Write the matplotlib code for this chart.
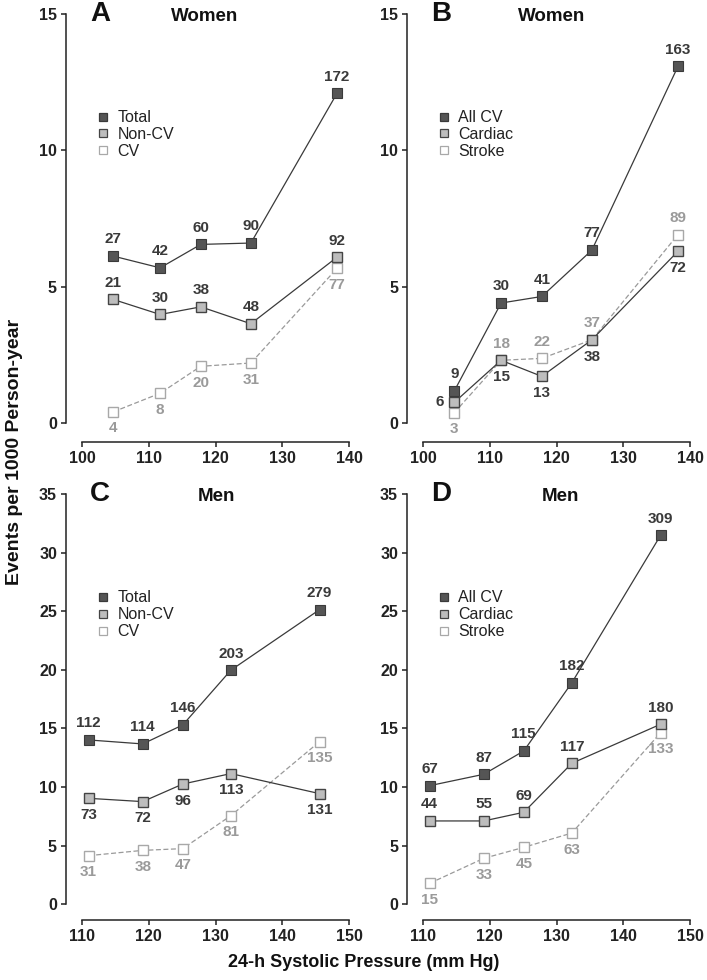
import matplotlib
matplotlib.use("Agg")
import matplotlib.pyplot as plt
from matplotlib.lines import Line2D

plt.rcParams['font.family'] = ['Liberation Sans', 'DejaVu Sans']

# ---- datos ----
# Mujeres (paneles A y B)
x_women = [104.7, 111.7, 117.8, 125.3, 138.2]
a_total = [6.12, 5.69, 6.55, 6.60, 12.09]
a_noncv = [4.53, 3.98, 4.26, 3.64, 6.08]
a_cv = [0.41, 1.09, 2.08, 2.20, 5.67]
a_total_n = ["27", "42", "60", "90", "172"]
a_noncv_n = ["21", "30", "38", "48", "92"]
a_cv_n = ["4", "8", "20", "31", "77"]

b_allcv = [1.18, 4.40, 4.64, 6.34, 13.08]
b_cardiac = [0.76, 2.30, 1.71, 3.05, 6.30]
b_stroke = [0.38, 2.30, 2.37, 3.05, 6.91]
b_allcv_n = ["9", "30", "41", "77", "163"]
b_cardiac_n = ["6", "15", "13", "38", "72"]
b_stroke_n = ["3", "18", "22", "37", "89"]

# Hombres (paneles C y D)
x_men = [111.0, 119.1, 125.1, 132.3, 145.6]
c_total = [14.02, 13.68, 15.30, 19.97, 25.14]
c_noncv = [9.04, 8.76, 10.26, 11.15, 9.44]
c_cv = [4.15, 4.60, 4.75, 7.56, 13.88]
c_total_n = ["112", "114", "146", "203", "279"]
c_noncv_n = ["73", "72", "96", "113", "131"]
c_cv_n = ["31", "38", "47", "81", "135"]

d_allcv = [10.12, 11.09, 13.08, 18.90, 31.48]
d_cardiac = [7.11, 7.11, 7.85, 12.03, 15.36]
d_stroke = [1.79, 3.92, 4.86, 6.08, 14.64]
d_allcv_n = ["67", "87", "115", "182", "309"]
d_cardiac_n = ["44", "55", "69", "117", "180"]
d_stroke_n = ["15", "33", "45", "63", "133"]

# donde va cada etiqueta: a = arriba, b = abajo, l = izquierda
a_pos = [["a"] * 5, ["a"] * 5, ["b"] * 5]
b_pos = [["a"] * 5, ["l", "b", "b", "b", "b"], ["b", "a", "a", "a", "a"]]
c_pos = [["a"] * 5, ["b"] * 5, ["b"] * 5]
d_pos = [["a"] * 5, ["a"] * 5, ["b"] * 5]

DARK = "#555555"
MID = "#bdbdbd"
LIGHT = "#a8a8a8"
TXT_DARK = "#3a3a3a"
TXT_LIGHT = "#9a9a9a"

estilos = [
    dict(color="#3a3a3a", ls="-", lw=0.9, marker="s", ms=7.2, mfc=DARK, mec="#3a3a3a", mew=0.8),
    dict(color="#3a3a3a", ls="-", lw=0.9, marker="s", ms=7.2, mfc=MID, mec="#444444", mew=1.0),
    dict(color="#9a9a9a", ls=(0, (4, 2)), lw=0.9, marker="s", ms=7.2, mfc="white", mec=LIGHT, mew=1.0),
]
colores_txt = [TXT_DARK, TXT_DARK, TXT_LIGHT]

fig = plt.figure(figsize=(7.07, 9.8), dpi=100)


def panel(rect, x, series, nums, posiciones, letras, titulo, nombres,
          xlim, xticks, ylim, yticks, off_bottom, titulo_x):
    ax = fig.add_axes(rect)
    for i in range(3):
        ax.plot(x, series[i], clip_on=False, zorder=3 + (2 - i), **estilos[i])
        for xi, yi, t, p in zip(x, series[i], nums[i], posiciones[i]):
            if p == "a":
                off = (0, 12)
            elif p == "b":
                off = (0, -12)
            else:
                off = (-10.5, 0)
            ax.annotate(t, (xi, yi), xytext=off, textcoords="offset points",
                        ha="center", va="center", fontsize=11, fontweight="bold",
                        color=colores_txt[i], zorder=10)
    ax.set_xlim(*xlim)
    ax.set_ylim(*ylim)
    ax.set_xticks(xticks)
    ax.set_yticks(yticks)
    for s in ["top", "right"]:
        ax.spines[s].set_visible(False)
    ax.spines["left"].set_position(("outward", 11.5))
    ax.spines["bottom"].set_position(("outward", off_bottom))
    for s in ["left", "bottom"]:
        ax.spines[s].set_linewidth(1.1)
        ax.spines[s].set_color("#222222")
    ax.tick_params(direction="out", length=3.5, width=1.1, colors="#222222",
                   labelsize=11.5, pad=3)
    for lab in ax.get_xticklabels() + ax.get_yticklabels():
        lab.set_fontweight("bold")
    ax.patch.set_visible(False)

    ax.text(0.03, 1.0, letras, transform=ax.transAxes, fontsize=20,
            fontweight="bold", ha="left", va="center", color="#111111")
    ax.text(titulo_x, 0.995, titulo, transform=ax.transAxes, fontsize=13.5,
            fontweight="bold", ha="center", va="center", color="#111111")

    handles = [Line2D([], [], ls="none", marker="s", ms=6, mfc=st["mfc"],
                      mec=st["mec"], mew=0.9) for st in estilos]
    leg = ax.legend(handles, nombres, loc="upper left", frameon=False,
                    bbox_to_anchor=(0.055, 0.765), fontsize=11.5,
                    handlelength=0.8, handletextpad=0.5, labelspacing=0.12,
                    borderpad=0, borderaxespad=0)
    for t in leg.get_texts():
        t.set_color("#222222")
    return ax


W = 267 / 707
H_top = 409 / 980
H_bot = 410.3 / 980

panel([82 / 707, 557 / 980, W, H_top], x_women,
      [a_total, a_noncv, a_cv], [a_total_n, a_noncv_n, a_cv_n], a_pos,
      "A", "Women", ["Total", "Non-CV", "CV"],
      (100, 140), [100, 110, 120, 130, 140], (0, 15), [0, 5, 10, 15], 13.7, 0.46)
panel([423 / 707, 557 / 980, W, H_top], x_women,
      [b_allcv, b_cardiac, b_stroke], [b_allcv_n, b_cardiac_n, b_stroke_n], b_pos,
      "B", "Women", ["All CV", "Cardiac", "Stroke"],
      (100, 140), [100, 110, 120, 130, 140], (0, 15), [0, 5, 10, 15], 13.7, 0.48)
panel([82 / 707, 75.7 / 980, W, H_bot], x_men,
      [c_total, c_noncv, c_cv], [c_total_n, c_noncv_n, c_cv_n], c_pos,
      "C", "Men", ["Total", "Non-CV", "CV"],
      (110, 150), [110, 120, 130, 140, 150], (0, 35), [0, 5, 10, 15, 20, 25, 30, 35], 11.3, 0.505)
panel([423 / 707, 75.7 / 980, W, H_bot], x_men,
      [d_allcv, d_cardiac, d_stroke], [d_allcv_n, d_cardiac_n, d_stroke_n], d_pos,
      "D", "Men", ["All CV", "Cardiac", "Stroke"],
      (110, 150), [110, 120, 130, 140, 150], (0, 35), [0, 5, 10, 15, 20, 25, 30, 35], 11.3, 0.515)

fig.text(15 / 707, 1 - 452 / 980, "Events per 1000 Person-year", rotation=90,
         ha="center", va="center", fontsize=14, fontweight="bold", color="#111111")
fig.text(364 / 707, 1 - 962 / 980, "24-h Systolic Pressure (mm Hg)",
         ha="center", va="center", fontsize=13, fontweight="bold", color="#111111")

fig.savefig("out.png", dpi=100)
